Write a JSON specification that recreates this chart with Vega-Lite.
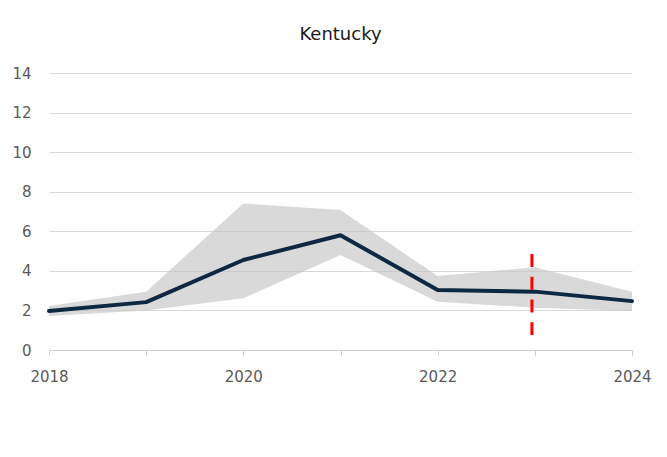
{
  "$schema": "https://vega.github.io/schema/vega-lite/v6.json",
  "autosize": "none",
  "width": 583,
  "height": 277,
  "padding": {"left": 49, "top": 73, "right": 35, "bottom": 107},
  "background": "white",
  "title": {
    "text": "Kentucky",
    "font": "DejaVu Sans",
    "fontSize": 18,
    "fontWeight": "normal",
    "color": "#1a1a1a",
    "anchor": "middle",
    "offset": 22
  },
  "config": {
    "view": {"stroke": null},
    "axis": {
      "labelFont": "DejaVu Sans",
      "labelFontSize": 15,
      "labelColor": "#595959",
      "labelOverlap": false,
      "title": null
    },
    "axisY": {
      "values": [0, 2, 4, 6, 8, 10, 12, 14],
      "domain": false,
      "ticks": false,
      "grid": true,
      "gridColor": "#d9d9d9",
      "gridWidth": 1.2,
      "labelPadding": 18,
      "labelOverlap": false
    }
  },
  "datasets": {
    "series": [
      {"year": 2018, "value": 1.97, "low": 1.72, "high": 2.22},
      {"year": 2019, "value": 2.42, "low": 2.0, "high": 2.95},
      {"year": 2020, "value": 4.55, "low": 2.61, "high": 7.41},
      {"year": 2021, "value": 5.8, "low": 4.8, "high": 7.07},
      {"year": 2022, "value": 3.03, "low": 2.44, "high": 3.74},
      {"year": 2023, "value": 2.95, "low": 2.14, "high": 4.18},
      {"year": 2024, "value": 2.47, "low": 1.97, "high": 2.95}
    ],
    "marker": [
      {"year": 2022.97, "from": 0.76, "to": 4.85}
    ]
  },
  "layer": [
    {
      "data": {"name": "series"},
      "mark": {"type": "area", "color": "#c4c4c4", "opacity": 0.65},
      "encoding": {
        "x": {
          "field": "year",
          "type": "quantitative",
          "scale": {"domain": [2018, 2024], "nice": false, "zero": false},
          "axis": {
            "values": [2018, 2019, 2020, 2021, 2022, 2023, 2024],
            "format": "d",
            "labelExpr": "datum.value % 2 == 0 ? datum.label : ''",
            "grid": false,
            "domainColor": "#d0d0d0",
            "domainWidth": 1,
            "tickColor": "#d0d0d0",
            "tickSize": 6,
            "labelPadding": 13,
            "labelFlush": false
          }
        },
        "y": {
          "field": "low",
          "type": "quantitative",
          "scale": {"domain": [0, 14], "nice": false}
        },
        "y2": {"field": "high"}
      }
    },
    {
      "data": {"name": "series"},
      "mark": {"type": "line", "color": "#0e2841", "strokeWidth": 4, "strokeJoin": "round", "strokeCap": "round"},
      "encoding": {
        "x": {"field": "year", "type": "quantitative"},
        "y": {"field": "value", "type": "quantitative"}
      }
    },
    {
      "data": {"name": "marker"},
      "mark": {"type": "rule", "color": "#ff0000", "strokeWidth": 3, "strokeDash": [13, 9.7]},
      "encoding": {
        "x": {"field": "year", "type": "quantitative"},
        "y": {"field": "to", "type": "quantitative"},
        "y2": {"field": "from"}
      }
    }
  ]
}
